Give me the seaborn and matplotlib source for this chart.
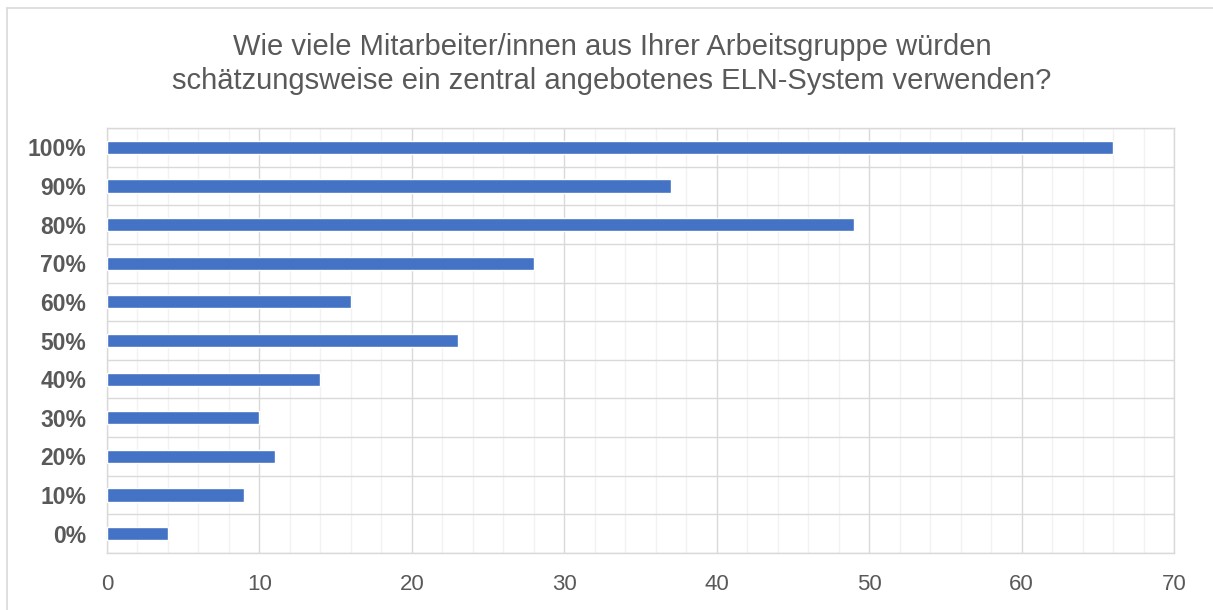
import matplotlib
matplotlib.use("Agg")
import matplotlib.pyplot as plt
from matplotlib.lines import Line2D
from matplotlib.ticker import MultipleLocator, FixedLocator
import seaborn as sns
import pandas as pd

categories = ["100%", "90%", "80%", "70%", "60%", "50%", "40%", "30%", "20%", "10%", "0%"]
values = [66, 37, 49, 28, 16, 23, 14, 10, 11, 9, 4]
x_ticks = [0, 10, 20, 30, 40, 50, 60, 70]
title = ("Wie viele Mitarbeiter/innen aus Ihrer Arbeitsgruppe würden\n"
         "schätzungsweise ein zentral angebotenes ELN-System verwenden?")

sns.set_style("white")
plt.rcParams["font.family"] = ["Liberation Sans", "DejaVu Sans"]

df = pd.DataFrame({"cat": categories, "val": values})

W, H = 1213, 610
fig = plt.figure(figsize=(W / 100, H / 100), dpi=100)
ax = fig.add_axes([107 / W, 1 - 553 / H, (1174 - 107) / W, (553 - 128) / H])

sns.barplot(data=df, y="cat", x="val", order=categories, orient="h",
            color="#4472C4", saturation=1, width=0.34, ax=ax, zorder=3)

ax.set_xlim(0, 70)
ax.set_ylim(len(categories) - 0.5, -0.5)
ax.set_xticks(x_ticks)
ax.xaxis.set_minor_locator(MultipleLocator(2))
ax.yaxis.set_minor_locator(FixedLocator([i - 0.5 for i in range(len(categories) + 1)]))

ax.set_axisbelow(True)
ax.xaxis.grid(True, which="minor", color="#f2f2f2", linewidth=1, zorder=0)
ax.xaxis.grid(True, which="major", color="#d9d9d9", linewidth=1, zorder=1)
ax.yaxis.grid(True, which="minor", color="#d9d9d9", linewidth=1, zorder=1)
ax.yaxis.grid(False, which="major")

for s in ax.spines.values():
    s.set_visible(True)
    s.set_color("#d9d9d9")
    s.set_linewidth(1)

ax.set_xlabel("")
ax.set_ylabel("")
ax.tick_params(axis="both", which="both", length=0)
ax.tick_params(axis="y", pad=15, labelsize=16.5, labelcolor="#595959")
ax.tick_params(axis="x", pad=15, labelsize=16, labelcolor="#595959")
for lbl in ax.get_yticklabels():
    lbl.set_fontweight("bold")

fig.text(612 / W, 1 - 64 / H, title, ha="center", va="center",
         fontsize=21, color="#595959", linespacing=1.24)

# outer chart frame (cropped at right and bottom)
fig.add_artist(Line2D([7 / W, 1.0], [1 - 8 / H, 1 - 8 / H], transform=fig.transFigure,
                      color="#d9d9d9", linewidth=1.2))
fig.add_artist(Line2D([7 / W, 7 / W], [0.0, 1 - 8 / H], transform=fig.transFigure,
                      color="#d9d9d9", linewidth=1.2))

fig.savefig("out.png", dpi=100)
